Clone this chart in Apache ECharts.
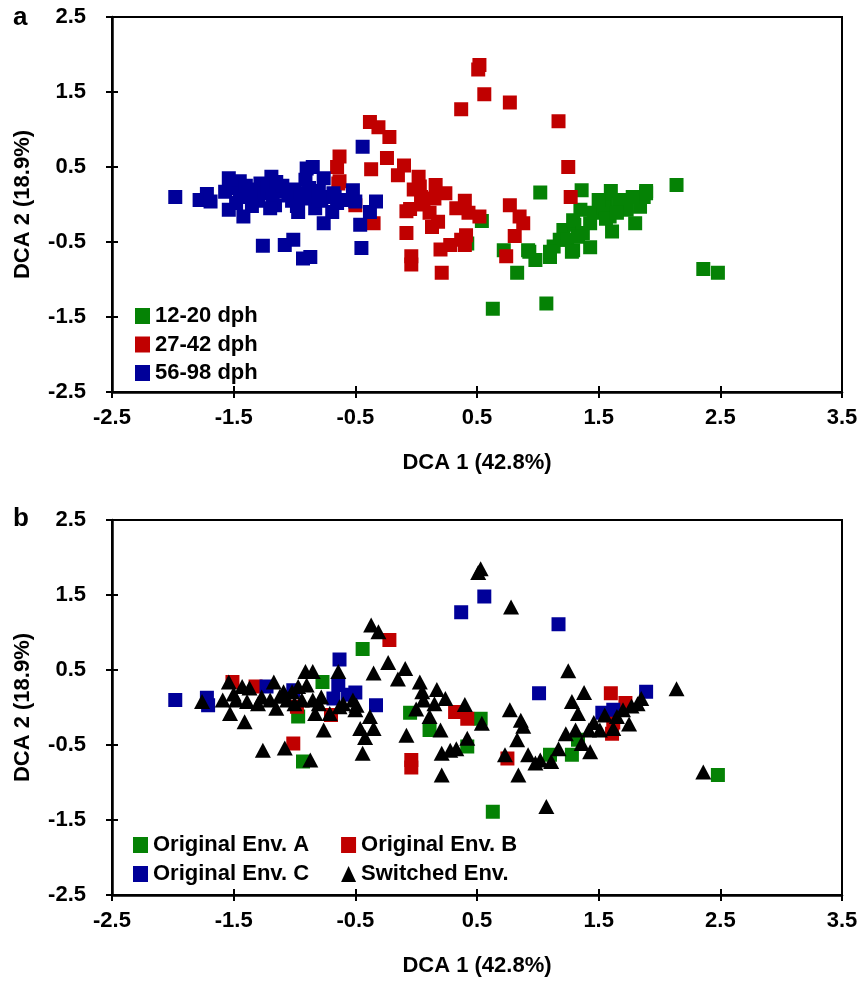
<!DOCTYPE html>
<html>
<head>
<meta charset="utf-8">
<script src="https://cdn.jsdelivr.net/npm/echarts@6/dist/echarts.min.js"></script>
<style>html,body{margin:0;padding:0;background:#fff;}#c{width:864px;height:983px;}</style>
</head>
<body>
<div id="c"></div>
<script>
// ---------- axis settings ----------
const xTicks = { min: -2.5, max: 3.5, step: 1 };
const yTicks = { min: -2.5, max: 2.5, step: 1 };
const xTitle = 'DCA 1 (42.8%)';
const yTitle = 'DCA 2 (18.9%)';

// ---------- panel a: sampling age ----------
const age12_20 = [
  [1.02,0.16],[0.54,-0.22],[0.72,-0.61],[0.83,-0.91],[0.93,-0.63],[0.98,-0.74],[1.10,-0.70],
  [1.36,0.19],[1.35,-0.07],[1.60,0.18],[1.89,0.18],[2.14,0.26],[2.36,-0.86],[2.48,-0.91],
  [0.63,-1.39],[1.07,-1.32],[0.92,-0.61],[1.29,-0.61],[1.43,-0.57],[1.18,-0.47],[1.21,-0.34],
  [1.30,-0.27],[1.43,-0.25],[1.51,-0.07],[1.61,-0.36],[1.59,-0.16],[1.67,0.02],[1.80,-0.25],
  [1.73,-0.07],[1.84,-0.03],[1.87,0.10],[1.78,0.10],[1.70,0.06],[1.56,0.02],[1.46,-0.11],
  [1.54,-0.04],[1.29,-0.21],[1.37,-0.38],[1.24,-0.47],[1.13,-0.56],[1.56,-0.19],[1.65,-0.11],
  [1.50,0.06],[1.89,0.15],[1.28,-0.63],[1.10,-0.63],[1.33,-0.43],[0.42,-0.52]
];
const age27_42 = [
  [0.52,1.86],[0.51,1.80],[0.56,1.47],[0.37,1.27],[0.77,1.36],[1.17,1.11],[1.25,0.50],[1.27,0.10],
  [-0.38,1.10],[-0.31,1.03],[-0.22,0.90],[-0.63,0.64],[-0.65,0.50],[-0.37,0.47],[-0.24,0.62],
  [-0.63,0.31],[-0.10,0.52],[-0.15,0.39],[0.02,0.37],[0.03,0.24],[0.16,0.26],[0.24,0.15],
  [0.04,0.10],[0.15,0.08],[-0.05,-0.06],[0.11,-0.11],[0.18,-0.23],[0.13,-0.30],[0.40,0.05],
  [0.33,-0.05],[0.43,-0.11],[0.52,-0.16],[-0.08,-0.38],[-0.04,-0.69],[-0.04,-0.80],[0.21,-0.91],
  [0.20,-0.60],[0.28,-0.54],[0.37,-0.47],[0.41,-0.41],[0.40,-0.54],[-0.35,-0.25],[-0.50,-0.01],
  [0.77,-0.01],[0.85,-0.16],[0.88,-0.25],[0.81,-0.42],[0.74,-0.69],[-0.64,0.28],[-0.08,-0.09],
  [0.06,0.00],[-0.02,0.20]
];
const age56_98 = [
  [-1.98,0.10],[-1.72,0.14],[-1.78,0.06],[-1.69,0.04],[-1.54,0.35],[-1.57,0.17],[-1.54,-0.07],
  [-1.42,-0.16],[-1.45,0.31],[-1.19,0.37],[-1.16,-0.01],[-1.26,-0.55],[-1.08,-0.54],[-1.01,-0.47],
  [-0.93,-0.72],[-0.87,-0.70],[-0.90,0.48],[-0.85,0.50],[-0.91,0.33],[-0.76,0.35],[-0.97,-0.10],
  [-0.83,-0.05],[-0.76,-0.25],[-0.69,-0.10],[-0.52,0.19],[-0.50,0.04],[-0.46,-0.27],[-0.38,-0.10],
  [-0.33,0.04],[-0.44,0.77],[-0.45,-0.58],[-0.60,0.06],[-0.67,0.10],
  [-1.50,0.22],[-1.45,0.15],[-1.40,0.25],[-1.38,0.10],[-1.33,0.20],[-1.30,0.05],[-1.28,0.28],
  [-1.25,0.15],[-1.22,0.22],[-1.18,0.08],[-1.12,0.18],[-1.10,0.25],[-1.05,0.12],[-1.02,0.05],
  [-1.00,0.20],[-0.95,0.15],[-0.92,0.08],[-0.88,0.22],[-0.85,0.12],[-0.80,0.18],[-0.78,0.05],
  [-0.72,0.10],[-0.68,0.15],[-1.35,-0.02],[-1.20,-0.05],[-1.48,0.02],[-1.15,0.30],[-0.98,-0.02],
  [-0.65,0.02]
];

// ---------- panel b: environment ----------
const envA = [
  [-0.97,-0.12],[-0.77,0.34],[-0.44,0.78],[-0.05,-0.07],[-0.93,-0.72],[0.11,-0.30],[0.53,-0.15],
  [0.42,-0.52],[1.10,-0.63],[1.28,-0.63],[1.33,-0.43],[2.48,-0.90],[0.63,-1.39]
];
const envB = [
  [-1.51,0.34],[-1.32,0.28],[-0.98,0.01],[-0.70,-0.10],[-0.22,0.90],[-1.01,-0.48],[-0.04,-0.70],
  [-0.04,-0.80],[0.32,-0.06],[0.42,-0.15],[0.75,-0.68],[1.60,0.19],[1.61,-0.35],[1.72,0.06],
  [1.62,-0.20]
];
const envC = [
  [-1.98,0.10],[-1.72,0.13],[-1.71,0.03],[-1.23,0.28],[-1.01,0.23],[-0.63,0.64],[-0.64,0.30],
  [-0.68,0.12],[-0.56,0.17],[-0.50,0.20],[-0.33,0.03],[0.37,1.27],[0.56,1.48],[1.17,1.11],
  [1.01,0.19],[1.89,0.21],[1.53,-0.07],[1.62,-0.03]
];
const switched = [
  [-1.76,0.08],[-1.59,0.10],[-1.54,0.34],[-1.53,-0.08],[-1.41,-0.19],[-1.43,0.28],[-1.37,0.26],
  [-1.48,0.10],[-1.39,0.08],[-1.27,0.14],[-1.17,0.34],[-1.26,-0.57],[-1.08,-0.54],[-0.87,-0.70],
  [-1.20,0.10],[-1.15,-0.01],[-1.09,0.21],[-1.02,0.21],[-1.06,0.10],[-0.94,0.10],[-0.91,0.48],
  [-0.85,0.48],[-0.90,0.30],[-0.83,-0.08],[-0.85,0.10],[-0.78,0.14],[-0.76,-0.30],[-0.71,-0.08],
  [-0.64,0.48],[-0.63,0.01],[-0.49,0.03],[-0.50,-0.03],[-0.38,-0.12],[-0.46,-0.28],[-0.35,-0.28],
  [-0.44,-0.61],[-0.37,1.10],[-0.31,1.01],[-0.35,0.46],[-0.23,0.60],[-0.09,0.52],[-0.15,0.38],
  [0.03,0.34],[0.05,0.21],[0.06,0.10],[-0.08,-0.37],[0.11,-0.12],
  [0.53,1.85],[0.51,1.80],[0.78,1.34],[1.25,0.49],[1.38,0.20],[1.28,0.08],[1.33,-0.08],
  [0.17,0.24],[0.24,0.12],[0.40,0.04],[0.54,-0.21],[0.77,-0.03],[0.86,-0.17],[0.88,-0.25],
  [0.83,-0.43],[0.42,-0.41],[0.21,-0.61],[0.28,-0.57],[0.33,-0.55],[0.73,-0.63],[0.92,-0.63],
  [0.98,-0.74],[1.11,-0.72],[1.17,-0.55],[1.23,-0.35],[1.31,-0.30],[1.42,-0.30],[1.51,-0.30],
  [1.43,-0.59],[0.21,-0.90],[0.84,-0.90],[2.36,-0.86],[2.14,0.25],[1.07,-1.32],[0.20,-0.30],
  [1.55,-0.10],[1.65,-0.12],[1.70,-0.03],[1.77,0.02],[1.82,0.05],[1.85,0.12],[1.75,-0.22],
  [1.62,-0.28],[1.46,-0.20],[0.15,0.05],[0.00,-0.02],[-0.52,0.10],[-0.60,0.05],[-1.00,0.05],
  [-1.12,0.15],[-0.97,0.28],[-0.80,0.05],[-1.30,0.05],[-1.50,0.18],[-0.42,-0.40],[1.36,-0.48],
  [1.02,-0.70]
];

// ---------- chart ----------
const FONT = '"Liberation Sans", Arial, sans-serif';
const GREEN = '#058205', RED = '#C00000', BLUE = '#000099', BLACK = '#000000';
const txt = { fontFamily: FONT, fontSize: 22, fontWeight: 'bold', color: '#000' };

const grids = [
  { left: 112, top: 17, width: 730, height: 375 },
  { left: 112, top: 520, width: 730, height: 375 }
];

const xAxes = [], yAxes = [];
grids.forEach((g, i) => {
  xAxes.push({
    type: 'value', gridIndex: i, min: xTicks.min, max: xTicks.max, interval: xTicks.step,
    name: xTitle, nameLocation: 'middle', nameGap: 60, nameTextStyle: txt,
    axisLine: { onZero: false, lineStyle: { color: '#000', width: 2.5 } },
    axisTick: { length: 6, lineStyle: { color: '#000', width: 2 } },
    axisLabel: Object.assign({ margin: 15 }, txt),
    splitLine: { show: false }
  });
  xAxes.push({
    type: 'value', gridIndex: i, position: 'bottom', min: xTicks.min, max: xTicks.max, interval: xTicks.step,
    axisLine: { show: false, onZero: false },
    axisTick: { inside: true, length: 6, lineStyle: { color: '#000', width: 2 } },
    axisLabel: { show: false }, splitLine: { show: false }
  });
  yAxes.push({
    type: 'value', gridIndex: i, min: yTicks.min, max: yTicks.max, interval: yTicks.step,
    name: yTitle, nameLocation: 'middle', nameGap: 78, nameTextStyle: txt,
    axisLine: { onZero: false, lineStyle: { color: '#000', width: 2.5 } },
    axisTick: { length: 6, lineStyle: { color: '#000', width: 2 } },
    axisLabel: Object.assign({ margin: 26 }, txt),
    splitLine: { show: false }
  });
  yAxes.push({
    type: 'value', gridIndex: i, position: 'left', min: yTicks.min, max: yTicks.max, interval: yTicks.step,
    axisLine: { show: false, onZero: false },
    axisTick: { inside: true, length: 6, lineStyle: { color: '#000', width: 2 } },
    axisLabel: { show: false }, splitLine: { show: false }
  });
});

function sq(name, data, color, g) {
  return { type: 'scatter', name, data, xAxisIndex: g * 2, yAxisIndex: g * 2,
    symbol: 'rect', symbolSize: 14, itemStyle: { color, opacity: 1 }, emphasis: { disabled: true } };
}

const legTxt = { fontFamily: FONT, fontSize: 22, fontWeight: 'bold', color: '#000', lineHeight: 22 };

const option = {
  animation: false,
  backgroundColor: '#fff',
  grid: grids.map(g => Object.assign({ show: true, borderColor: '#000', borderWidth: 2, backgroundColor: 'transparent' }, g)),
  xAxis: xAxes,
  yAxis: yAxes,
  legend: [
    { left: 130, top: 300, orient: 'vertical', itemWidth: 15, itemHeight: 16, itemGap: 6.5, selectedMode: false,
      textStyle: legTxt, icon: 'rect', data: ['12-20 dph', '27-42 dph', '56-98 dph'] },
    { left: 128, top: 829, orient: 'horizontal', itemWidth: 15, itemHeight: 16, itemGap: 32, selectedMode: false,
      textStyle: legTxt, data: [{ name: 'Original Env. A', icon: 'rect' }, { name: 'Original Env. B', icon: 'rect' }] },
    { left: 128, top: 858, orient: 'horizontal', itemWidth: 15, itemHeight: 16, itemGap: 32, selectedMode: false,
      textStyle: legTxt, data: [{ name: 'Original Env. C', icon: 'rect' }, { name: 'Switched Env.', icon: 'triangle' }] }
  ],
  graphic: [
    { type: 'text', left: 13, top: 5, style: { text: 'a', font: 'bold 26px ' + FONT, fill: '#000' } },
    { type: 'text', left: 13, top: 506, style: { text: 'b', font: 'bold 26px ' + FONT, fill: '#000' } }
  ],
  series: [
    sq('12-20 dph', age12_20, GREEN, 0),
    sq('27-42 dph', age27_42, RED, 0),
    sq('56-98 dph', age56_98, BLUE, 0),
    sq('Original Env. A', envA, GREEN, 1),
    sq('Original Env. B', envB, RED, 1),
    sq('Original Env. C', envC, BLUE, 1),
    { type: 'scatter', name: 'Switched Env.', data: switched, xAxisIndex: 2, yAxisIndex: 2,
      symbol: 'triangle', symbolSize: [16, 15], itemStyle: { color: BLACK, opacity: 1 }, emphasis: { disabled: true } }
  ]
};

const chart = echarts.init(document.getElementById('c'), null, { renderer: 'canvas' });
chart.setOption(option);
</script>
</body>
</html>
